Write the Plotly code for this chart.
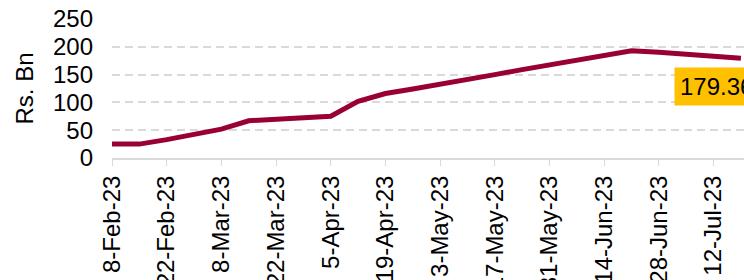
import plotly.graph_objects as go

dates = ["2023-02-08", "2023-02-15", "2023-02-22", "2023-03-01", "2023-03-08",
         "2023-03-15", "2023-03-22", "2023-03-29", "2023-04-05", "2023-04-12",
         "2023-04-19", "2023-04-26", "2023-05-03", "2023-05-10", "2023-05-17",
         "2023-05-24", "2023-05-31", "2023-06-07", "2023-06-14", "2023-06-21",
         "2023-06-28", "2023-07-05", "2023-07-12", "2023-07-19"]
values = [25, 25, 33, 43, 52, 67, 69, 71, 75, 102, 116, 124, 132, 141, 150,
          159, 168, 176, 185, 193, 190, 186, 182, 179.36]
y_ticks = [0, 50, 100, 150, 200, 250]
label_text = "179.36"

FONT = "Liberation Sans, Arial, sans-serif"

fig = go.Figure()
fig.add_trace(go.Scatter(x=dates, y=values, mode="lines",
                         line=dict(color="#990033", width=5),
                         hoverinfo="skip"))

fig.add_annotation(x=dates[-1], y=values[-1], xref="x", yref="y",
                   text=label_text, showarrow=False,
                   xanchor="left", yanchor="top", xshift=-67, yshift=-9,
                   bgcolor="#FFC000", borderpad=5,
                   font=dict(family=FONT, size=24, color="#000000"))

fig.update_layout(
    width=744, height=280,
    margin=dict(l=112, r=0, t=19, b=122, autoexpand=False),
    paper_bgcolor="white", plot_bgcolor="white",
    showlegend=False,
    font=dict(family=FONT, size=24, color="#000000"),
)
fig.update_xaxes(
    type="date", range=["2023-02-08", "2023-07-19 19:00"],
    tick0="2023-02-08", dtick=14 * 86400000, tickformat="%-d-%b-%y",
    tickangle=-90, ticks="outside", ticklen=6, tickcolor="#D9D9D9",
    showline=True, linecolor="#D9D9D9", linewidth=2,
    showgrid=False, zeroline=False, automargin=False,
    tickfont=dict(family=FONT, size=24, color="#000000"),
)
fig.update_yaxes(
    range=[0, 250], tickvals=y_ticks, showgrid=True,
    gridcolor="#D9D9D9", griddash="8px,5px", gridwidth=2,
    zeroline=False, showline=False, ticks="", ticklabelstandoff=18,
    automargin=False,
    title=dict(text="Rs. Bn", standoff=12, font=dict(family=FONT, size=24)),
    tickfont=dict(family=FONT, size=24, color="#000000"),
)

fig.write_html("out.html", config={"displayModeBar": False},
               post_script="document.body.style.margin='0';document.body.style.overflow='hidden';")
